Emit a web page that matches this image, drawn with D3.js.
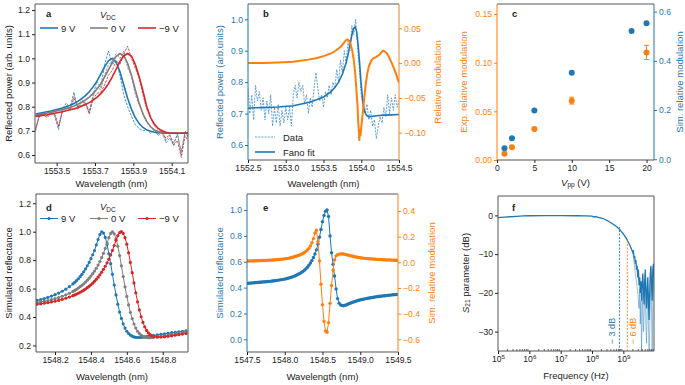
<!DOCTYPE html>
<html>
<head>
<meta charset="utf-8">
<script src="https://cdn.jsdelivr.net/npm/d3@7"></script>
<style>
body { margin: 0; background: #fff; }
svg { font-family: "Liberation Sans", Arial, sans-serif; }
</style>
</head>
<body>
<script>
// ---------- data ----------

// a: measured reflection vs wavelength, grid 1553.39 + 0.02*i
const aWl = d3.range(41).map(i => 1553.39 + 0.02 * i);
const aFit9 = [0.770,0.773,0.776,0.779,0.782,0.786,0.790,0.795,0.800,0.806,0.813,0.822,0.833,0.846,0.862,0.882,0.906,0.935,0.965,0.990,1.000,0.985,0.945,0.890,0.835,0.790,0.755,0.730,0.714,0.704,0.698,0.694,0.692,0.691,0.690,0.690,0.690,0.690,0.690,0.690,0.690];
const aFit0 = [0.765,0.768,0.771,0.774,0.777,0.780,0.784,0.788,0.792,0.797,0.803,0.810,0.818,0.828,0.840,0.855,0.873,0.895,0.922,0.952,0.982,1.008,1.020,1.012,0.980,0.930,0.870,0.815,0.770,0.738,0.717,0.704,0.697,0.693,0.691,0.690,0.690,0.690,0.690,0.690,0.690];
const aFitM9 = [0.760,0.762,0.765,0.767,0.770,0.773,0.776,0.779,0.783,0.787,0.791,0.796,0.802,0.809,0.817,0.827,0.839,0.854,0.872,0.895,0.923,0.955,0.987,1.010,1.020,1.010,0.975,0.925,0.865,0.800,0.755,0.727,0.710,0.700,0.694,0.691,0.690,0.690,0.690,0.690,0.690];
const aData9 = [0.700,0.770,0.775,0.762,0.780,0.760,0.705,0.790,0.815,0.795,0.860,0.790,0.830,0.815,0.775,0.850,0.905,0.880,0.975,1.030,0.975,0.990,0.930,0.850,0.800,0.760,0.725,0.710,0.700,0.705,0.690,0.705,0.680,0.700,0.650,0.670,0.640,0.690,0.600,0.700,0.670];
const aData0 = [0.705,0.765,0.770,0.760,0.775,0.770,0.715,0.785,0.805,0.790,0.845,0.800,0.815,0.820,0.780,0.840,0.880,0.870,0.930,0.975,0.985,1.020,1.000,1.030,0.960,0.930,0.850,0.810,0.770,0.735,0.715,0.700,0.690,0.705,0.660,0.680,0.650,0.685,0.615,0.695,0.665];
const aDataM9 = [0.710,0.760,0.765,0.755,0.770,0.768,0.720,0.780,0.800,0.785,0.835,0.800,0.805,0.815,0.770,0.830,0.855,0.860,0.890,0.930,0.950,0.990,0.975,1.020,1.050,1.000,0.960,0.920,0.850,0.790,0.755,0.720,0.705,0.690,0.670,0.685,0.640,0.660,0.590,0.680,0.655];
const vdcLabels = ["9 V", "0 V", "\u22129 V"];

// b: data on grid 1552.5 + 0.025*i, Fano fit and relative modulation
const bWl = d3.range(81).map(i => 1552.5 + 0.025 * i);
const bData = [0.78,0.70,0.76,0.68,0.79,0.74,0.77,0.71,0.75,0.68,0.74,0.70,0.76,0.66,0.72,0.67,0.73,0.66,0.71,0.67,0.72,0.68,0.72,0.66,0.76,0.79,0.75,0.80,0.77,0.79,0.73,0.76,0.70,0.75,0.72,0.78,0.83,0.78,0.74,0.76,0.72,0.77,0.75,0.79,0.76,0.80,0.78,0.84,0.80,0.87,0.83,0.90,0.86,0.93,0.90,0.98,0.95,1.00,0.92,0.84,0.76,0.72,0.70,0.73,0.68,0.71,0.66,0.68,0.62,0.66,0.69,0.67,0.72,0.69,0.76,0.70,0.75,0.71,0.76,0.72,0.74];
const bFitWl = [1552.5,1552.7,1552.9,1553.1,1553.3,1553.4,1553.5,1553.6,1553.65,1553.7,1553.75,1553.8,1553.83,1553.86,1553.88,1553.9,1553.92,1553.94,1553.96,1553.98,1554.0,1554.02,1554.04,1554.06,1554.08,1554.1,1554.15,1554.2,1554.3,1554.4,1554.5];
const bFit = [0.718,0.719,0.721,0.725,0.735,0.743,0.753,0.770,0.783,0.800,0.825,0.862,0.893,0.930,0.955,0.972,0.976,0.960,0.915,0.855,0.790,0.740,0.712,0.698,0.692,0.690,0.691,0.693,0.695,0.696,0.697];
const bModWl = [1552.5,1552.7,1552.9,1553.1,1553.3,1553.4,1553.5,1553.6,1553.65,1553.7,1553.74,1553.77,1553.8,1553.82,1553.84,1553.86,1553.88,1553.9,1553.92,1553.94,1553.95,1553.96,1553.97,1553.975,1553.98,1553.99,1554.0,1554.02,1554.04,1554.06,1554.08,1554.1,1554.13,1554.16,1554.2,1554.24,1554.27,1554.29,1554.31,1554.34,1554.37,1554.4,1554.43,1554.46,1554.48,1554.5];
const bMod = [0.000,0.000,0.001,0.002,0.005,0.007,0.010,0.014,0.017,0.021,0.025,0.029,0.033,0.034,0.032,0.027,0.018,0.005,-0.015,-0.045,-0.060,-0.085,-0.100,-0.112,-0.095,-0.105,-0.092,-0.072,-0.050,-0.030,-0.015,-0.005,0.003,0.007,0.009,0.012,0.016,0.018,0.017,0.014,0.008,0.001,-0.007,-0.015,-0.022,-0.028];

// c: modulation vs peak-to-peak voltage
const cVppExp = [1, 2, 5, 10, 20];
const cExp = [0.0065, 0.0132, 0.0318, 0.0610, 0.1105];
const cExpErr = [0.0008, 0.0010, 0.0012, 0.0035, 0.0073];
const cVppSim = [1, 2, 5, 10, 18, 20];
const cSim = [0.045, 0.085, 0.198, 0.352, 0.521, 0.553];

// d: simulated reflectance
const dWl = [].concat(
  d3.range(11).map(i => 1548.10 + 0.02 * i),
  d3.range(45).map(i => 1548.31 + 0.01 * i),
  d3.range(9).map(i => 1548.77 + 0.02 * i));
const d9 = [0.517,0.523,0.530,0.538,0.547,0.557,0.568,0.581,0.596,0.613,0.633,0.644,0.656,0.669,0.684,0.700,0.718,0.738,0.760,0.784,0.810,0.838,0.867,0.907,0.945,0.980,0.998,0.990,0.960,0.910,0.845,0.775,0.700,0.625,0.555,0.490,0.435,0.390,0.352,0.322,0.300,0.284,0.273,0.265,0.260,0.257,0.256,0.256,0.257,0.258,0.260,0.262,0.264,0.266,0.268,0.270,0.274,0.278,0.282,0.286,0.290,0.293,0.296,0.299,0.302];
const d0 = [0.502,0.506,0.511,0.516,0.522,0.529,0.537,0.546,0.556,0.567,0.580,0.587,0.595,0.604,0.613,0.623,0.634,0.646,0.659,0.673,0.688,0.705,0.723,0.743,0.765,0.790,0.818,0.848,0.882,0.920,0.958,0.988,0.999,0.985,0.950,0.898,0.832,0.760,0.685,0.612,0.545,0.485,0.432,0.388,0.351,0.322,0.300,0.284,0.272,0.264,0.259,0.256,0.255,0.255,0.256,0.257,0.260,0.264,0.268,0.273,0.278,0.282,0.286,0.290,0.294];
const dM9 = [0.490,0.493,0.497,0.501,0.506,0.511,0.517,0.524,0.532,0.540,0.550,0.555,0.561,0.567,0.574,0.581,0.589,0.597,0.606,0.616,0.627,0.638,0.651,0.665,0.680,0.697,0.715,0.735,0.757,0.781,0.807,0.836,0.868,0.903,0.940,0.972,0.994,1.000,0.988,0.958,0.912,0.852,0.784,0.712,0.640,0.570,0.507,0.450,0.402,0.362,0.330,0.306,0.288,0.276,0.268,0.263,0.259,0.259,0.261,0.264,0.268,0.272,0.276,0.280,0.284];

// e: simulated reflectance and modulation, grid 1547.5 + 0.02*i
const eWl = d3.range(101).map(i => 1547.5 + 0.02 * i);
const eRefl = [0.433,0.434,0.435,0.436,0.437,0.438,0.439,0.440,0.441,0.442,0.443,0.444,0.445,0.446,0.447,0.448,0.450,0.451,0.453,0.454,0.456,0.458,0.460,0.462,0.464,0.466,0.469,0.472,0.475,0.479,0.483,0.487,0.492,0.497,0.503,0.510,0.517,0.525,0.534,0.545,0.558,0.573,0.590,0.610,0.633,0.660,0.692,0.735,0.790,0.850,0.910,0.958,0.990,1.000,0.950,0.800,0.670,0.580,0.490,0.390,0.315,0.280,0.266,0.261,0.260,0.264,0.268,0.273,0.278,0.283,0.287,0.291,0.295,0.298,0.302,0.305,0.308,0.310,0.313,0.315,0.318,0.320,0.322,0.324,0.326,0.328,0.330,0.331,0.333,0.334,0.336,0.337,0.338,0.340,0.341,0.342,0.344,0.345,0.346,0.347,0.348];
const eMod = [0.010,0.010,0.011,0.011,0.011,0.012,0.012,0.012,0.013,0.013,0.014,0.014,0.015,0.015,0.016,0.017,0.017,0.018,0.019,0.020,0.021,0.022,0.023,0.024,0.025,0.027,0.029,0.031,0.033,0.036,0.039,0.042,0.046,0.050,0.054,0.058,0.063,0.069,0.076,0.085,0.096,0.110,0.128,0.152,0.185,0.228,0.250,0.160,0.010,-0.170,-0.330,-0.460,-0.535,-0.545,-0.470,-0.320,-0.180,-0.060,0.020,0.050,0.060,0.064,0.066,0.066,0.065,0.062,0.059,0.056,0.053,0.050,0.047,0.044,0.042,0.040,0.038,0.036,0.034,0.033,0.031,0.030,0.029,0.028,0.027,0.026,0.025,0.024,0.023,0.022,0.022,0.021,0.020,0.020,0.019,0.019,0.018,0.018,0.017,0.017,0.016,0.016,0.015];

// f: S21 (log10 of frequency in Hz, dB)
const fExp = [5.0,5.2,5.4,5.6,5.8,6.0,6.5,7.0,7.5,7.8,8.0,8.05,8.1,8.2,8.3,8.4,8.5,8.6,8.7,8.8,8.9,9.0,9.1,9.2,9.3,9.32,9.34,9.36,9.38,9.40,9.42,9.44,9.46,9.48,9.50,9.52,9.54,9.56,9.58,9.60,9.62,9.64,9.66,9.68,9.70,9.72,9.74,9.76,9.78,9.80,9.82,9.84,9.86,9.88,9.90,9.92,9.94,9.96,9.977];
const fS21 = [-0.6,-0.45,-0.35,-0.25,-0.15,-0.1,-0.05,-0.05,-0.1,-0.15,-0.2,-0.45,-0.3,-0.5,-0.7,-1.0,-1.4,-1.9,-2.4,-3.0,-3.8,-4.8,-6.0,-7.6,-9.5,-9.0,-11.0,-10.5,-12.5,-11.5,-14,-13,-16,-14,-18,-16,-20,-17,-22,-18,-15,-19,-23,-17,-14,-20,-24,-19,-16,-22,-27,-20,-15,-13,-18,-22,-14,-12.5,-16];
const fRawExp = [9.30,9.34,9.38,9.42,9.46,9.50,9.52,9.54,9.56,9.58,9.60,9.62,9.64,9.66,9.68,9.70,9.72,9.74,9.76,9.78,9.80,9.82,9.84,9.86,9.88,9.90,9.92,9.94,9.96,9.977];
const fRaw = [-9.5,-12,-15,-17,-20,-24,-19,-28,-22,-35,-25,-20,-30,-26,-21,-18,-29,-33,-24,-20,-28,-35,-30,-22,-17,-25,-35,-20,-16,-22];
const f3dB = 7.5e8, f6dB = 1.34e9;

// ---------- drawing ----------
const blue = "#1f77b4", orange = "#ff7f0e", red = "#d62728", grey = "#7f7f7f", ink = "#222", frameCol = "#555";

const svg = d3.select("body").append("svg").attr("width", 685).attr("height", 385);

function tidy(g, col) {
  g.select(".domain").remove();
  g.selectAll(".tick line").attr("stroke", col);
  g.selectAll(".tick text").attr("fill", col).attr("font-size", 8.6);
}
function xAxis(box, x, ticks, fmt) {
  const g = svg.append("g").attr("transform", `translate(0,${box.b})`)
    .call(d3.axisBottom(x).tickValues(ticks).tickFormat(fmt).tickSize(3).tickPadding(2));
  tidy(g, ink);
  return g;
}
function yLeft(box, y, ticks, fmt, col) {
  const g = svg.append("g").attr("transform", `translate(${box.l},0)`)
    .call(d3.axisLeft(y).tickValues(ticks).tickFormat(fmt).tickSize(3).tickPadding(2));
  tidy(g, col);
  return g;
}
function yRight(box, y, ticks, fmt, col) {
  const g = svg.append("g").attr("transform", `translate(${box.r},0)`)
    .call(d3.axisRight(y).tickValues(ticks).tickFormat(fmt).tickSize(3).tickPadding(2));
  tidy(g, col);
  return g;
}
function frame(box, cl, cr) {
  const f = svg.append("g").attr("fill", "none").attr("stroke-width", 1);
  f.append("line").attr("x1", box.l).attr("x2", box.r).attr("y1", box.t).attr("y2", box.t).attr("stroke", frameCol);
  f.append("line").attr("x1", box.l).attr("x2", box.r).attr("y1", box.b).attr("y2", box.b).attr("stroke", frameCol);
  f.append("line").attr("x1", box.l).attr("x2", box.l).attr("y1", box.t).attr("y2", box.b).attr("stroke", cl || frameCol);
  f.append("line").attr("x1", box.r).attr("x2", box.r).attr("y1", box.t).attr("y2", box.b).attr("stroke", cr || frameCol);
}
function clip(box, id) {
  svg.append("clipPath").attr("id", id).append("rect")
    .attr("x", box.l).attr("y", box.t).attr("width", box.r - box.l).attr("height", box.b - box.t);
  return svg.append("g").attr("clip-path", `url(#${id})`);
}
function ylabel(x, y, txt, col) {
  return svg.append("text").attr("transform", `translate(${x},${y}) rotate(-90)`)
    .attr("text-anchor", "middle").attr("dominant-baseline", "central")
    .attr("font-size", 9.5).attr("fill", col || ink).text(txt);
}
function xlabel(box, y, txt) {
  return svg.append("text").attr("x", (box.l + box.r) / 2).attr("y", y)
    .attr("text-anchor", "middle").attr("dominant-baseline", "central")
    .attr("font-size", 9.5).attr("fill", ink).text(txt);
}
function letter(x, y, t) {
  svg.append("text").attr("x", x).attr("y", y).attr("font-size", 9.5)
    .attr("font-weight", "bold").attr("fill", ink).text(t);
}
function pathOf(xs, ys, x, y) {
  return d3.line().x((d, i) => x(xs[i])).y(d => y(d))(ys);
}
function vdcTitle(x, y) {
  const t = svg.append("text").attr("x", x).attr("y", y).attr("font-size", 9.5).attr("fill", ink);
  t.append("tspan").attr("font-style", "italic").text("V");
  t.append("tspan").attr("font-size", 6.5).attr("dy", 2).text("DC");
}
const f2 = d3.format(".2f"), f1 = d3.format(".1f");

// ---- panel a ----
const A = {l: 35, r: 188, t: 4, b: 163};
const ax = d3.scaleLinear().domain([1553.387, 1554.185]).range([A.l, A.r]);
const ay = d3.scaleLinear().domain([0.567, 1.225]).range([A.b, A.t]);
const ag = clip(A, "ca");
[[aData9, blue], [aData0, grey], [aDataM9, red]].forEach(([s, c]) => {
  ag.append("path").attr("d", pathOf(aWl, s, ax, ay)).attr("fill", "none")
    .attr("stroke", c).attr("stroke-width", 0.8).attr("stroke-dasharray", "2.5,1.2");
});
[[aFit9, blue], [aFit0, grey], [aFitM9, red]].forEach(([s, c]) => {
  ag.append("path").attr("d", pathOf(aWl, s, ax, ay)).attr("fill", "none")
    .attr("stroke", c).attr("stroke-width", 1.6);
});
frame(A);
xAxis(A, ax, [1553.5, 1553.7, 1553.9, 1554.1], f1);
yLeft(A, ay, [0.6, 0.7, 0.8, 0.9, 1.0, 1.1, 1.2], f1, ink);
ylabel(8, 83.5, "Reflected power (arb. units)");
xlabel(A, 183, "Wavelength (nm)");
letter(46, 17, "a");
vdcTitle(100, 18);
[blue, grey, red].forEach((c, i) => {
  const x0 = [40, 90, 138][i];
  svg.append("line").attr("x1", x0).attr("x2", x0 + 18).attr("y1", 28).attr("y2", 28)
    .attr("stroke", c).attr("stroke-width", 1.6);
  svg.append("text").attr("x", x0 + 21).attr("y", 31.5).attr("font-size", 9.5).attr("fill", ink).text(vdcLabels[i]);
});

// ---- panel b ----
const B = {l: 248, r: 399, t: 4, b: 160};
const bx = d3.scaleLinear().domain([1552.5, 1554.5]).range([B.l, B.r]);
const byL = d3.scaleLinear().domain([0.5523, 1.0487]).range([B.b, B.t]);
const byR = d3.scaleLinear().domain([-0.1392, 0.0849]).range([B.b, B.t]);
const bg = clip(B, "cb");
bg.append("path").attr("d", pathOf(bWl, bData, bx, byL)).attr("fill", "none")
  .attr("stroke", "#3a8ac4").attr("stroke-width", 0.8).attr("stroke-dasharray", "2,1.2");
bg.append("path").attr("d", pathOf(bFitWl, bFit, bx, byL)).attr("fill", "none")
  .attr("stroke", blue).attr("stroke-width", 1.6);
bg.append("path").attr("d", pathOf(bModWl, bMod, bx, byR)).attr("fill", "none")
  .attr("stroke", orange).attr("stroke-width", 2);
frame(B, blue, orange);
xAxis(B, bx, [1552.5, 1553.0, 1553.5, 1554.0, 1554.5], f1);
yLeft(B, byL, [0.6, 0.7, 0.8, 0.9, 1.0], f1, blue);
yRight(B, byR, [-0.10, -0.05, 0, 0.05], f2, orange);
ylabel(219, 82, "Reflected power (arb.units)", blue);
ylabel(437, 82, "Relative modulation", orange);
xlabel(B, 183, "Wavelength (nm)");
letter(263, 17, "b");
svg.append("line").attr("x1", 255).attr("x2", 275).attr("y1", 137).attr("y2", 137)
  .attr("stroke", "#3a8ac4").attr("stroke-width", 0.8).attr("stroke-dasharray", "2,1.2");
svg.append("text").attr("x", 283).attr("y", 140.5).attr("font-size", 9.5).attr("fill", ink).text("Data");
svg.append("line").attr("x1", 255).attr("x2", 275).attr("y1", 152).attr("y2", 152)
  .attr("stroke", blue).attr("stroke-width", 1.6);
svg.append("text").attr("x", 283).attr("y", 155.5).attr("font-size", 9.5).attr("fill", ink).text("Fano fit");

// ---- panel c ----
const C = {l: 497, r: 654, t: 4, b: 160};
const cx = d3.scaleLinear().domain([0, 21]).range([C.l, C.r]);
const cyL = d3.scaleLinear().domain([0, 0.1603]).range([C.b, C.t]);
const cyR = d3.scaleLinear().domain([-0.003, 0.631]).range([C.b, C.t]);
const cg = svg.append("g");
cg.selectAll("circle.sim").data(cSim).join("circle").attr("class", "sim")
  .attr("cx", (d, i) => cx(cVppSim[i])).attr("cy", d => cyR(d)).attr("r", 3).attr("fill", blue);
cExp.forEach((d, i) => {
  const xx = cx(cVppExp[i]);
  const y0 = cyL(d - cExpErr[i]), y1 = cyL(d + cExpErr[i]);
  cg.append("line").attr("x1", xx).attr("x2", xx).attr("y1", y0).attr("y2", y1).attr("stroke", orange).attr("stroke-width", 1);
  [y0, y1].forEach(yy => cg.append("line").attr("x1", xx - 2.5).attr("x2", xx + 2.5)
    .attr("y1", yy).attr("y2", yy).attr("stroke", orange).attr("stroke-width", 1));
});
cg.selectAll("circle.exp").data(cExp).join("circle").attr("class", "exp")
  .attr("cx", (d, i) => cx(cVppExp[i])).attr("cy", d => cyL(d)).attr("r", 3).attr("fill", orange);
frame(C, orange, blue);
xAxis(C, cx, [0, 5, 10, 15, 20], d3.format("d"));
yLeft(C, cyL, [0, 0.05, 0.10, 0.15], f2, orange);
yRight(C, cyR, [0, 0.2, 0.4, 0.6], f1, blue);
ylabel(463, 82, "Exp. relative modulation", orange);
ylabel(679, 82, "Sim. relative modulation", blue);
{
  const t = svg.append("text").attr("x", (C.l + C.r) / 2).attr("y", 182).attr("text-anchor", "middle")
    .attr("dominant-baseline", "central").attr("font-size", 9.5).attr("fill", ink);
  t.append("tspan").attr("font-style", "italic").text("V");
  t.append("tspan").attr("font-size", 6.5).attr("dy", 2).text("pp");
  t.append("tspan").attr("dy", -2).text(" (V)");
}
letter(512, 17, "c");

// ---- panel d ----
const D = {l: 36, r: 188, t: 194, b: 352};
const dx = d3.scaleLinear().domain([1548.094, 1548.941]).range([D.l, D.r]);
const dy = d3.scaleLinear().domain([0.154, 1.265]).range([D.b, D.t]);
const dg = clip(D, "cd");
[[d9, blue], [d0, grey], [dM9, red]].forEach(([s, c]) => {
  dg.append("path").attr("d", pathOf(dWl, s, dx, dy)).attr("fill", "none")
    .attr("stroke", c).attr("stroke-width", 1);
  dg.append("g").selectAll("circle").data(s).join("circle")
    .attr("cx", (d, i) => dx(dWl[i])).attr("cy", d => dy(d)).attr("r", 1.6).attr("fill", c);
});
frame(D);
xAxis(D, dx, [1548.2, 1548.4, 1548.6, 1548.8], f1);
yLeft(D, dy, [0.2, 0.4, 0.6, 0.8, 1.0, 1.2], f1, ink);
ylabel(8, 273, "Simulated reflectance");
xlabel(D, 376, "Wavelength (nm)");
letter(46, 211, "d");
vdcTitle(100, 210);
[blue, grey, red].forEach((c, i) => {
  const x0 = [40, 90, 138][i];
  svg.append("line").attr("x1", x0).attr("x2", x0 + 18).attr("y1", 218.5).attr("y2", 218.5)
    .attr("stroke", c).attr("stroke-width", 1);
  svg.append("circle").attr("cx", x0 + 9).attr("cy", 218.5).attr("r", 1.6).attr("fill", c);
  svg.append("text").attr("x", x0 + 21).attr("y", 222).attr("font-size", 9.5).attr("fill", ink).text(vdcLabels[i]);
});

// ---- panel e ----
const E = {l: 247, r: 398, t: 194, b: 352};
const ex = d3.scaleLinear().domain([1547.5, 1549.5]).range([E.l, E.r]);
const eyL = d3.scaleLinear().domain([-0.098, 1.124]).range([E.b, E.t]);
const eyR = d3.scaleLinear().domain([-0.699, 0.5325]).range([E.b, E.t]);
const eg = clip(E, "ce");
[[eRefl, eyL, blue], [eMod, eyR, orange]].forEach(([s, y, c]) => {
  eg.append("path").attr("d", pathOf(eWl, s, ex, y)).attr("fill", "none")
    .attr("stroke", c).attr("stroke-width", 1);
  eg.append("g").selectAll("circle").data(s).join("circle")
    .attr("cx", (d, i) => ex(eWl[i])).attr("cy", d => y(d)).attr("r", 1.7).attr("fill", c);
});
frame(E, blue, orange);
xAxis(E, ex, [1547.5, 1548.0, 1548.5, 1549.0, 1549.5], f1);
yLeft(E, eyL, [0, 0.2, 0.4, 0.6, 0.8, 1.0], f1, blue);
yRight(E, eyR, [-0.6, -0.4, -0.2, 0, 0.2, 0.4], f1, orange);
ylabel(219, 273, "Simulated reflectance", blue);
ylabel(431, 273, "Sim. relative modulation", orange);
xlabel(E, 376, "Wavelength (nm)");
letter(263, 211, "e");

// ---- panel f ----
const F = {l: 498, r: 654, t: 196, b: 351};
const fx = d3.scaleLog().domain([1e5, 9.5e9]).range([F.l, F.r]);
const fy = d3.scaleLinear().domain([-35, 5]).range([F.b, F.t]);
const fg = clip(F, "cf");
fg.append("path").attr("d", pathOf(fRawExp.map(e => Math.pow(10, e)), fRaw, fx, fy)).attr("fill", "none")
  .attr("stroke", blue).attr("stroke-opacity", 0.45).attr("stroke-width", 1);
fg.append("path").attr("d", pathOf(fExp.map(e => Math.pow(10, e)), fS21, fx, fy)).attr("fill", "none")
  .attr("stroke", blue).attr("stroke-width", 1.3);
fg.append("line").attr("x1", fx(f3dB)).attr("x2", fx(f3dB)).attr("y1", fy(-35)).attr("y2", fy(-3))
  .attr("stroke", blue).attr("stroke-width", 0.9).attr("stroke-dasharray", "2,1.5");
fg.append("line").attr("x1", fx(f6dB)).attr("x2", fx(f6dB)).attr("y1", fy(-35)).attr("y2", fy(-6.4))
  .attr("stroke", orange).attr("stroke-width", 0.9).attr("stroke-dasharray", "2,1.5");
// minor ticks
const minors = [];
[5, 6, 7, 8, 9].forEach(k => d3.range(2, 10).forEach(m => { if (m * Math.pow(10, k) < 9.5e9) minors.push(m * Math.pow(10, k)); }));
svg.append("g").selectAll("line").data(minors).join("line")
  .attr("x1", d => fx(d)).attr("x2", d => fx(d)).attr("y1", F.b).attr("y2", F.b - 2)
  .attr("stroke", ink).attr("stroke-width", 0.7);
frame(F);
const fxa = xAxis(F, fx, [1e5, 1e6, 1e7, 1e8, 1e9], () => "");
fxa.selectAll(".tick text").each(function (d) {
  const t = d3.select(this).attr("dy", "0.71em");
  t.append("tspan").text("10");
  t.append("tspan").attr("font-size", 6.2).attr("dy", -3.5).text(Math.round(Math.log10(d)));
});
yLeft(F, fy, [0, -10, -20, -30], d3.format("d"), ink);
{
  const t = svg.append("text").attr("transform", `translate(465,273) rotate(-90)`)
    .attr("text-anchor", "middle").attr("dominant-baseline", "central").attr("font-size", 9.5).attr("fill", ink);
  t.append("tspan").attr("font-style", "italic").text("S");
  t.append("tspan").attr("font-size", 6.5).attr("dy", 2).text("21");
  t.append("tspan").attr("dy", -2).text(" parameter (dB)");
}
xlabel(F, 375, "Frequency (Hz)");
letter(512, 211, "f");
ylabel(612, 331, "\u2212 3 dB", blue).attr("font-size", 9);
ylabel(633, 331, "\u2212 6 dB", orange).attr("font-size", 9);
</script>
</body>
</html>
